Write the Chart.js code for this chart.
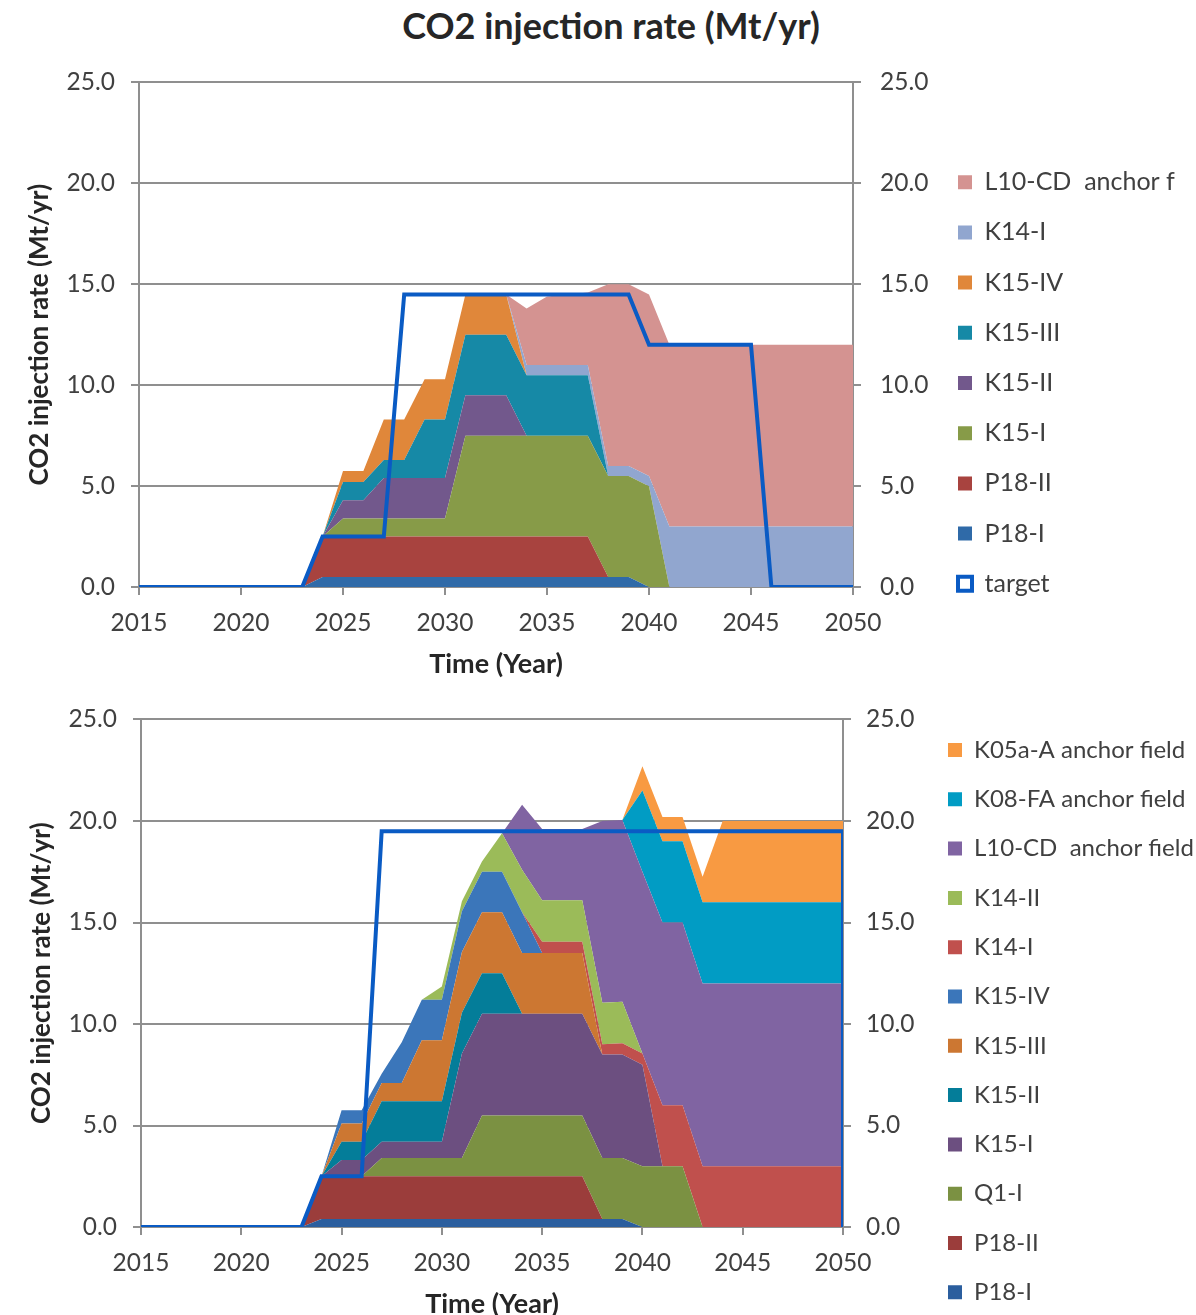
<!DOCTYPE html>
<html lang="en">
<head>
<meta charset="UTF-8">
<title>CO2 injection rate (Mt/yr)</title>
<script src="https://cdn.jsdelivr.net/npm/chart.js@4"></script>
<style>
  html, body { margin: 0; padding: 0; background: #fff; overflow: hidden; }
  body { width: 1196px; height: 1315px; position: relative; }
  #titulo {
    position: absolute; left: 0; top: 6px; width: 1222px; line-height: 38px;
    text-align: center; font-family: Lato, sans-serif; font-weight: bold; font-size: 36px; color: #262626;
  }
  .grafico { position: absolute; left: 0; width: 1240px; }
  #graficoSuperior { top: 50px; height: 634px; }
  #graficoInferior { top: 690px; height: 642px; }
</style>
</head>
<body>
<div id="titulo">CO2 injection rate (Mt/yr)</div>
<div class="grafico" id="graficoSuperior"><canvas id="chartSuperior"></canvas></div>
<div class="grafico" id="graficoInferior"><canvas id="chartInferior"></canvas></div>

<script>
// Años (eje X)
const years = [2015, 2016, 2017, 2018, 2019, 2020, 2021, 2022, 2023, 2024, 2025, 2026,
               2027, 2028, 2029, 2030, 2031, 2032, 2033, 2034, 2035, 2036, 2037, 2038,
               2039, 2040, 2041, 2042, 2043, 2044, 2045, 2046, 2047, 2048, 2049, 2050];
const yTicks = [0, 5, 10, 15, 20, 25];

// ---- Gráfico superior (Mt/yr por campo) ----
const supP18I   = [0,0,0,0,0,0,0,0,0, 0.5,0.5,0.5,0.5,0.5,0.5,0.5,0.5,0.5,0.5,0.5,0.5,0.5,0.5,0.5,0.5, 0,0,0,0,0,0,0,0,0,0,0];
const supP18II  = [0,0,0,0,0,0,0,0,0, 2,2,2,2,2,2,2,2,2,2,2,2,2,2, 0,0,0,0,0,0,0,0,0,0,0,0,0];
const supK15I   = [0,0,0,0,0,0,0,0,0,0, 0.9,0.9,0.9,0.9,0.9,0.9, 5,5,5,5,5,5,5,5,5,5, 0,0,0,0,0,0,0,0,0,0];
const supK15II  = [0,0,0,0,0,0,0,0,0,0, 0.9,0.9, 2,2,2,2, 2,2,2, 0,0,0,0,0,0,0,0,0,0,0,0,0,0,0,0,0,0];
const supK15III = [0,0,0,0,0,0,0,0,0,0, 0.9,0.9,0.9,0.9, 2.9,2.9, 3,3,3,3,3,3,3, 0,0,0,0,0,0,0,0,0,0,0,0,0];
const supK15IV  = [0,0,0,0,0,0,0,0,0,0, 0.55,0.55, 2,2,2,2,2,2,2, 0,0,0,0,0,0,0,0,0,0,0,0,0,0,0,0,0,0];
const supK14I   = [0,0,0,0,0,0,0,0,0,0,0,0,0,0,0,0,0,0,0, 0.5,0.5,0.5,0.5,0.5,0.5,0.5, 3,3,3,3,3,3,3,3,3,3];
const supL10CD  = [0,0,0,0,0,0,0,0,0,0,0,0,0,0,0,0,0,0,0, 2.8,3.4,3.5,3.6, 9,9,9, 9,9,9,9,9,9,9,9,9,9];
const supTarget = [0,0,0,0,0,0,0,0,0, 2.5,2.5,2.5,2.5, 14.5,14.5,14.5,14.5,14.5,14.5,14.5,14.5,14.5,14.5,14.5,14.5,
                   12,12,12,12,12,12, 0,0,0,0,0];

// ---- Gráfico inferior ----
const infP18I   = [0,0,0,0,0,0,0,0,0, 0.4,0.4,0.4,0.4,0.4,0.4,0.4,0.4,0.4,0.4,0.4,0.4,0.4,0.4,0.4,0.4, 0,0,0,0,0,0,0,0,0,0,0];
const infP18II  = [0,0,0,0,0,0,0,0,0, 2.1,2.1,2.1,2.1,2.1,2.1,2.1,2.1,2.1,2.1,2.1,2.1,2.1,2.1, 0,0,0,0,0,0,0,0,0,0,0,0,0];
const infQ1I    = [0,0,0,0,0,0,0,0,0,0,0,0, 0.9,0.9,0.9,0.9,0.9, 3,3,3,3,3,3,3,3,3,3,3, 0,0,0,0,0,0,0,0];
const infK15I   = [0,0,0,0,0,0,0,0,0,0, 0.8,0.8,0.8,0.8,0.8,0.8, 5.15, 5,5,5,5,5,5, 5.1,5.1, 5, 0,0,0,0,0,0,0,0,0,0];
const infK15II  = [0,0,0,0,0,0,0,0,0,0, 0.9,0.9, 2,2,2,2,2,2,2, 0,0,0,0,0,0,0,0,0,0,0,0,0,0,0,0,0,0];
const infK15III = [0,0,0,0,0,0,0,0,0,0, 0.9,0.9,0.9,0.9, 3,3,3,3,3,3,3,3,3, 0,0,0,0,0,0,0,0,0,0,0,0,0];
const infK15IV  = [0,0,0,0,0,0,0,0,0,0, 0.65,0.65,0.45, 2,2,2,2,2,2,2, 0,0,0,0,0,0,0,0,0,0,0,0,0,0,0,0];
const infK14I   = [0,0,0,0,0,0,0,0,0,0,0,0,0,0,0,0,0,0,0,0, 0.55,0.55,0.55,0.5,0.55,0.55, 3,3,3,3,3,3,3,3,3,3];
const infK14II  = [0,0,0,0,0,0,0,0,0,0,0,0,0,0,0, 0.65,0.5,0.5,1.9,2.1, 2.05,2.05,2.05,2.05,2.05, 0,0,0,0,0,0,0,0,0,0,0];
const infL10CD  = [0,0,0,0,0,0,0,0,0,0,0,0,0,0,0,0,0,0,0, 3.2,3.5,3.5,3.5, 8.95,8.95,8.95, 9,9,9,9,9,9,9,9,9,9];
const infK08FA  = [0,0,0,0,0,0,0,0,0,0,0,0,0,0,0,0,0,0,0,0,0,0,0,0,0, 4,4,4,4,4,4,4,4,4,4,4];
const infK05aA  = [0,0,0,0,0,0,0,0,0,0,0,0,0,0,0,0,0,0,0,0,0,0,0,0,0, 1.2,1.2,1.2,1.25, 4,4,4,4,4,4,4];
const infTargetYears = [2015, 2016, 2017, 2018, 2019, 2020, 2021, 2022, 2023, 2024, 2025, 2026,
                        2027, 2028, 2029, 2030, 2031, 2032, 2033, 2034, 2035, 2036, 2037, 2038,
                        2039, 2040, 2041, 2042, 2043, 2044, 2045, 2046, 2047, 2048, 2049, 2050, 2050];
const infTarget = [0,0,0,0,0,0,0,0,0, 2.5,2.5,2.5, 19.5,19.5,19.5,19.5,19.5,19.5,19.5,19.5,19.5,19.5,19.5,19.5,
                   19.5,19.5,19.5,19.5,19.5,19.5,19.5,19.5,19.5,19.5,19.5,19.5, 0];

const gris = '#8f8f8f';
const colorTexto = '#404040';
const familia = 'Lato, "Open Sans", sans-serif';
const fuenteTicks = { family: familia, size: 24.5, lineHeight: 1.1 };
const fuenteTituloEje = { family: familia, size: 26, weight: 'bold' };
const fuenteTituloX = { family: familia, size: 27, weight: 'bold', lineHeight: 1.0 };

// Calcula el padding derecho para que la leyenda empiece donde queremos
function paddingDerecho(etiquetas, tamFuente, cajaIzq, relleno, anchoCanvas) {
    const ctx = document.createElement('canvas').getContext('2d');
    ctx.font = `${tamFuente}px ${familia}`;
    const ancho = Math.max(...etiquetas.map(t => ctx.measureText(t).width));
    const anchoLeyenda = relleno + 14 + tamFuente / 2 + ancho + 10;
    return anchoCanvas - (cajaIzq - relleno) - anchoLeyenda;
}

// Arma los datasets: la línea target primero, luego las áreas apiladas
function crearDatasets(series, objetivo) {
    const datasets = [{
        label: 'target',
        data: objetivo,
        stack: 'target',
        borderColor: '#0a5bc4',
        backgroundColor: '#ffffff',
        borderWidth: 4,
        fill: false,
        pointRadius: 0,
        tension: 0
    }];
    series.forEach((s, i) => {
        datasets.push({
            label: s.label,
            data: s.data,
            stack: 'campos',
            backgroundColor: s.color,
            borderColor: 'rgba(0,0,0,0)',
            borderWidth: 0,
            fill: i === 0 ? 'origin' : '-1',
            pointRadius: 0,
            tension: 0
        });
    });
    return datasets;
}

function crearGrafico(canvasId, series, objetivo, geo) {
    const ctx = document.getElementById(canvasId).getContext('2d');
    const anchoCanvas = ctx.canvas.parentNode.clientWidth;
    const etiquetas = series.map(s => s.label);
    if (geo.leyendaTarget) etiquetas.push('target');
    const padDer = paddingDerecho(etiquetas, geo.fuenteLeyenda, geo.cajaLeyenda, geo.rellenoLeyenda, anchoCanvas);
    const anchoEjeDer = (geo.cajaLeyenda - geo.rellenoLeyenda) - geo.derecha;

    return new Chart(ctx, {
        type: 'line',
        data: {
            labels: years,
            datasets: crearDatasets(series, objetivo)
        },
        options: {
            responsive: true,
            maintainAspectRatio: false,
            animation: false,
            layout: { padding: { top: geo.arriba, right: padDer, left: 0, bottom: 0 } },
            plugins: {
                tooltip: { enabled: false },
                // espacio vacío sobre el área del gráfico (no empuja la leyenda)
                title: {
                    display: geo.espacio > 0,
                    text: '',
                    fullSize: false,
                    font: { size: 1, lineHeight: 1 },
                    padding: { top: Math.max(geo.espacio - 1, 0), bottom: 0 }
                },
                legend: {
                    position: 'right',
                    align: geo.alineacion,
                    reverse: true,
                    maxWidth: 500,
                    labels: {
                        boxWidth: 14,
                        boxHeight: 14,
                        padding: geo.rellenoLeyenda,
                        color: colorTexto,
                        font: { family: familia, size: geo.fuenteLeyenda },
                        filter: item => geo.leyendaTarget || item.text !== 'target'
                    }
                }
            },
            scales: {
                x: {
                    type: 'linear',
                    min: 2015,
                    max: 2050,
                    grid: { drawOnChartArea: false, tickLength: 8, color: gris, lineWidth: 2 },
                    border: { color: gris, width: 2 },
                    ticks: {
                        stepSize: 5,
                        padding: 14.5,
                        maxRotation: 0,
                        color: colorTexto,
                        font: fuenteTicks,
                        callback: v => String(v)
                    },
                    title: {
                        display: true,
                        text: 'Time (Year)',
                        color: '#262626',
                        font: fuenteTituloX,
                        padding: { top: 0, bottom: geo.tituloXAbajo }
                    }
                },
                y: {
                    stacked: true,
                    min: 0,
                    max: 25,
                    grid: { color: gris, lineWidth: 2, tickLength: 8 },
                    border: { color: gris, width: 2 },
                    ticks: {
                        stepSize: 5,
                        padding: 16,
                        color: colorTexto,
                        font: fuenteTicks,
                        callback: v => yTicks.includes(v) ? v.toFixed(1) : ''
                    },
                    title: {
                        display: true,
                        text: 'CO2 injection rate (Mt/yr)',
                        color: '#262626',
                        font: fuenteTituloEje,
                        padding: { top: geo.tituloY, bottom: 0 }
                    },
                    afterFit: scale => { scale.width = geo.izquierda; }
                },
                y2: {
                    position: 'right',
                    min: 0,
                    max: 25,
                    grid: { drawOnChartArea: false, color: gris, lineWidth: 2, tickLength: 8 },
                    border: { color: gris, width: 2 },
                    ticks: {
                        stepSize: 5,
                        padding: geo.rellenoDer,
                        color: colorTexto,
                        font: fuenteTicks,
                        callback: v => yTicks.includes(v) ? v.toFixed(1) : ''
                    },
                    afterFit: scale => { scale.width = anchoEjeDer; }
                }
            }
        }
    });
}

// Series del gráfico superior (de abajo hacia arriba)
const seriesSuperior = [
    { label: 'P18-I', data: supP18I, color: '#2f6aa8' },
    { label: 'P18-II', data: supP18II, color: '#a8433f' },
    { label: 'K15-I', data: supK15I, color: '#879b48' },
    { label: 'K15-II', data: supK15II, color: '#72588c' },
    { label: 'K15-III', data: supK15III, color: '#1689a6' },
    { label: 'K15-IV', data: supK15IV, color: '#e0873a' },
    { label: 'K14-I', data: supK14I, color: '#91a6cf' },
    { label: 'L10-CD  anchor f', data: supL10CD, color: '#d49391' }
];

// Series del gráfico inferior
const seriesInferior = [
    { label: 'P18-I', data: infP18I, color: '#2b5e9e' },
    { label: 'P18-II', data: infP18II, color: '#9b3d3b' },
    { label: 'Q1-I', data: infQ1I, color: '#7b9142' },
    { label: 'K15-I', data: infK15I, color: '#6c4f80' },
    { label: 'K15-II', data: infK15II, color: '#047d99' },
    { label: 'K15-III', data: infK15III, color: '#cc7732' },
    { label: 'K15-IV', data: infK15IV, color: '#3b76ba' },
    { label: 'K14-I', data: infK14I, color: '#c0504d' },
    { label: 'K14-II', data: infK14II, color: '#9bbb59' },
    { label: 'L10-CD  anchor field', data: infL10CD, color: '#8064a2' },
    { label: 'K08-FA anchor field', data: infK08FA, color: '#019cc4' },
    { label: 'K05a-A anchor field', data: infK05aA, color: '#f89a42' }
];

const objetivoInferior = infTargetYears.map((x, i) => ({ x: x, y: infTarget[i] }));

crearGrafico('chartSuperior', seriesSuperior, supTarget, {
    arriba: 32, espacio: 0, alineacion: 'center', leyendaTarget: true, izquierda: 139, derecha: 853,
    tituloY: 24.4, tituloXAbajo: 6, fuenteLeyenda: 25, cajaLeyenda: 958, rellenoLeyenda: 25.2, rellenoDer: 19
});
crearGrafico('chartInferior', seriesInferior, objetivoInferior, {
    arriba: 22.7, espacio: 6.3, alineacion: 'start', leyendaTarget: false, izquierda: 141, derecha: 843,
    tituloY: 26.4, tituloXAbajo: 14, fuenteLeyenda: 24, cajaLeyenda: 948, rellenoLeyenda: 25.3, rellenoDer: 15
});
</script>
</body>
</html>
